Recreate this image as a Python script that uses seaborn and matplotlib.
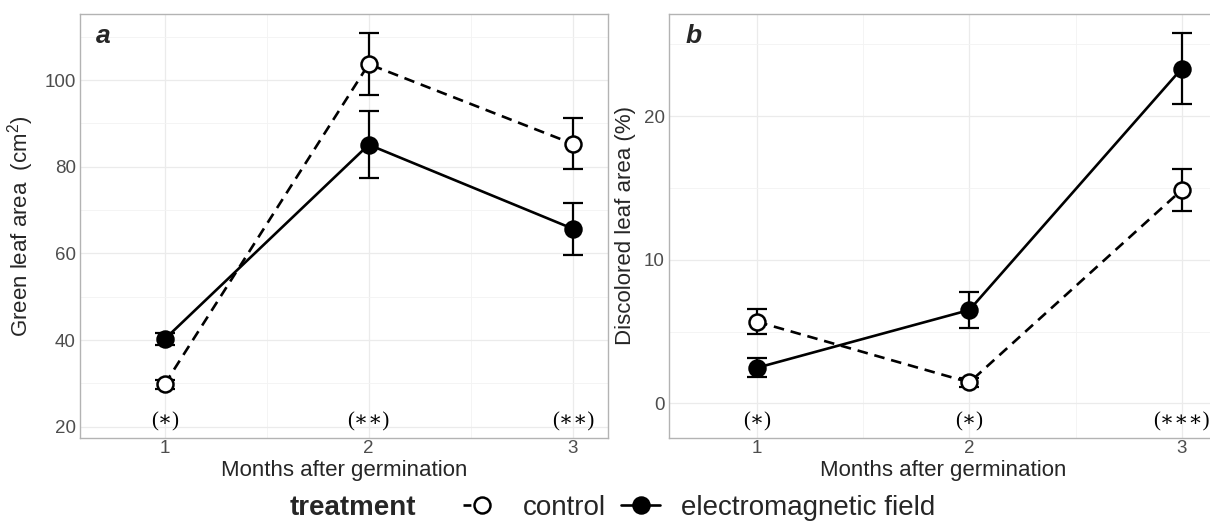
import numpy as np
import pandas as pd
import matplotlib
matplotlib.use("Agg")
import matplotlib.pyplot as plt
from matplotlib.lines import Line2D
import seaborn as sns

months = [1, 2, 3]
treatments = ["control", "electromagnetic field"]

# panel a: green leaf area (cm2)
green_control = [29.8, 103.7, 85.3]
green_control_se = [1.0, 7.2, 5.9]
green_emf = [40.2, 85.1, 65.7]
green_emf_se = [1.4, 7.7, 6.0]
green_sig = ["(∗)", "(∗∗)", "(∗∗)"]

# panel b: discolored leaf area (%)
disc_control = [5.68, 1.46, 14.85]
disc_control_se = [0.88, 0.30, 1.45]
disc_emf = [2.48, 6.50, 23.3]
disc_emf_se = [0.67, 1.27, 2.47]
disc_sig = ["(∗)", "(∗)", "(∗∗∗)"]

sns.set_theme(style="white")
plt.rcParams['font.family'] = ['Liberation Sans', 'DejaVu Sans']
plt.rcParams['mathtext.fontset'] = 'custom'
plt.rcParams['mathtext.rm'] = 'Liberation Sans'
plt.rcParams['mathtext.it'] = 'Liberation Sans:italic'


def long_df(ctrl, emf):
    return pd.DataFrame({
        "month": months * 2,
        "value": list(ctrl) + list(emf),
        "treatment": [treatments[0]] * 3 + [treatments[1]] * 3,
    })


def draw_panel(ax, ctrl, ctrl_se, emf, emf_se, sig, sig_y, ylim, major, minor, ylabel, letter):
    df = long_df(ctrl, emf)
    err = list(ctrl_se) + list(emf_se)
    ax.errorbar(df["month"], df["value"], yerr=err, fmt="none", ecolor="black",
                elinewidth=1.6, capsize=7.5, capthick=1.6, zorder=2)
    sub = df[df.treatment == "control"]
    sns.lineplot(data=sub, x="month", y="value", ax=ax, color="black", lw=1.9,
                 linestyle=(0, (4, 2.6)), marker="o", markersize=11.5,
                 markerfacecolor="white", markeredgecolor="black",
                 markeredgewidth=1.8, errorbar=None, legend=False, zorder=3)
    sub = df[df.treatment == "electromagnetic field"]
    sns.lineplot(data=sub, x="month", y="value", ax=ax, color="black", lw=1.9,
                 marker="o", markersize=11.5, markerfacecolor="black",
                 markeredgecolor="black", markeredgewidth=1.8, errorbar=None,
                 legend=False, zorder=4)
    for m, s in zip(months, sig):
        ax.text(m, sig_y, s, ha="center", va="center", fontsize=15,
                family=["Liberation Serif", "DejaVu Serif"], color="black")
    ax.set_xlim(0.585, 3.171)
    ax.set_ylim(*ylim)
    ax.set_xticks(months)
    ax.set_xticks([1.5, 2.5], minor=True)
    ax.set_yticks(major)
    ax.set_yticks(minor, minor=True)
    ax.grid(which="major", color="#EBEBEB", lw=0.9)
    ax.grid(which="minor", color="#F3F3F3", lw=0.6)
    ax.set_axisbelow(True)
    ax.tick_params(which="both", length=0, labelsize=13.5, labelcolor="#4D4D4D", pad=2)
    ax.tick_params(axis="y", pad=3)
    for sp in ax.spines.values():
        sp.set_color("#B3B3B3")
        sp.set_linewidth(1.0)
    ax.set_xlabel("Months after germination", fontsize=16, labelpad=2)
    ax.set_ylabel(ylabel, fontsize=16, labelpad=6)
    ax.text(0.044, 0.948, letter, transform=ax.transAxes, fontsize=19,
            fontweight="bold", fontstyle="italic", ha="center", va="center")


fig = plt.figure(figsize=(12.1, 5.22), dpi=100)
ax_a = fig.add_axes([0.0661, 0.1615, 0.4361, 0.8111])
ax_b = fig.add_axes([0.5529, 0.1615, 0.4537, 0.8111])

draw_panel(ax_a, green_control, green_control_se, green_emf, green_emf_se,
           green_sig, 21.2, (17.46, 115.2), [20, 40, 60, 80, 100],
           [30, 50, 70, 90, 110], "Green leaf area  (cm$^2$)", "a")
draw_panel(ax_b, disc_control, disc_control_se, disc_emf, disc_emf_se,
           disc_sig, -1.28, (-2.39, 27.08), [0, 10, 20], [5, 15, 25],
           "Discolored leaf area (%)", "b")

handles = [
    Line2D([], [], color="black", lw=1.9, linestyle=(0, (3, 30)), marker="o",
           markersize=11.5, markerfacecolor="white", markeredgecolor="black",
           markeredgewidth=1.8),
    Line2D([], [], color="black", lw=1.9, marker="o", markersize=11.5,
           markerfacecolor="black", markeredgecolor="black", markeredgewidth=1.8),
]
fig.text(290 / 1210, 0.027, "treatment", fontsize=20, fontweight="bold",
         ha="left", va="center")
fig.legend(handles, treatments, loc="center left", bbox_to_anchor=(463 / 1210, 0.027),
           ncol=2, frameon=False, fontsize=20, handlelength=1.4, handletextpad=0.75,
           columnspacing=0.55, borderpad=0, borderaxespad=0)

fig.savefig("out.png", dpi=100)
